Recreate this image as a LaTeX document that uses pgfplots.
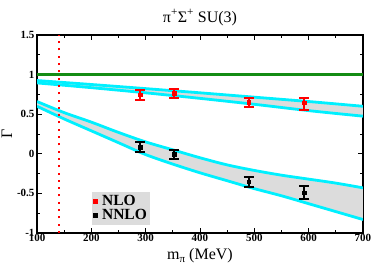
\documentclass[border=0pt]{standalone}
\usepackage{pgfplots}
\pgfplotsset{compat=1.18}
\usepgfplotslibrary{fillbetween}
\usepackage{fontspec}
\setmainfont{Liberation Serif}
\definecolor{bandgray}{RGB}{220,220,220}
\definecolor{cyanline}{RGB}{0,240,255}
\definecolor{mygreen}{RGB}{20,140,20}
\newcommand{\tl}[1]{\textbf{\fontsize{11}{12}\selectfont #1}}
\begin{document}
\begin{tikzpicture}
\begin{axis}[
  scale only axis, width=326pt, height=198pt,
  xmin=100, xmax=700, ymin=-1, ymax=1.5,
  xtick={100,200,300,400,500,600,700},
  xticklabels={\tl{100},\tl{200},\tl{300},\tl{400},\tl{500},\tl{600},\tl{700}},
  ytick={-1,-0.5,0,0.5,1,1.5},
  yticklabels={\tl{-1},\tl{-0.5},\tl{0},\tl{0.5},\tl{1},\tl{1.5}},
  minor x tick num=1, minor y tick num=1,
  tick align=inside,
  major tick length=5pt, minor tick length=3pt,
  tick style={black, line width=0.9pt},
  axis line style={line width=1.8pt},
  xticklabel style={yshift=2pt},
  yticklabel style={xshift=1pt},
  title={\fontsize{16}{18}\selectfont π\textsuperscript{+}Σ\textsuperscript{+} SU(3)},
  xlabel={\fontsize{16}{18}\selectfont m\raisebox{-0.35ex}{\fontsize{11}{11}\selectfont π} (MeV)},
  ylabel={\fontsize{16}{18}\selectfont Γ},
  xlabel style={yshift=0pt},
  ylabel style={yshift=-2pt},
  clip=true,
  legend style={at={(0.168,0.04)}, anchor=south west, fill=bandgray, draw=none,
    font=\bfseries\fontsize{15.5}{15.5}\selectfont, row sep=-1.5pt, inner sep=1.5pt,
    /tikz/every odd column/.append style={column sep=3pt}},
  legend cell align=left,
]
% NLO band
\addplot[name path=nloU, draw=none, forget plot] coordinates {(100,0.925) (200,0.875) (300,0.823) (400,0.77) (500,0.715) (600,0.66) (700,0.60)};
\addplot[name path=nloL, draw=none, forget plot] coordinates {(100,0.895) (200,0.835) (300,0.77) (400,0.70) (500,0.625) (600,0.545) (700,0.475)};
\addplot[bandgray, forget plot] fill between[of=nloU and nloL];
% NNLO band
\addplot[name path=nnloU, draw=none, forget plot] coordinates {(100,0.66) (150,0.52) (200,0.40) (250,0.27) (300,0.15) (350,0.05) (400,-0.05) (450,-0.14) (500,-0.21) (550,-0.27) (600,-0.32) (650,-0.37) (700,-0.43)};
\addplot[name path=nnloL, draw=none, forget plot] coordinates {(100,0.60) (150,0.44) (200,0.29) (250,0.14) (300,-0.01) (350,-0.13) (400,-0.24) (450,-0.34) (500,-0.44) (550,-0.53) (600,-0.63) (650,-0.73) (700,-0.83)};
\addplot[bandgray, forget plot] fill between[of=nnloU and nnloL];
% band edges
\addplot[cyanline, line width=2.8pt, smooth, forget plot] coordinates {(100,0.925) (200,0.875) (300,0.823) (400,0.77) (500,0.715) (600,0.66) (700,0.60)};
\addplot[cyanline, line width=2.8pt, smooth, forget plot] coordinates {(100,0.895) (200,0.835) (300,0.77) (400,0.70) (500,0.625) (600,0.545) (700,0.475)};
\addplot[cyanline, line width=2.8pt, smooth, forget plot] coordinates {(100,0.66) (150,0.52) (200,0.40) (250,0.27) (300,0.15) (350,0.05) (400,-0.05) (450,-0.14) (500,-0.21) (550,-0.27) (600,-0.32) (650,-0.37) (700,-0.43)};
\addplot[cyanline, line width=2.8pt, smooth, forget plot] coordinates {(100,0.60) (150,0.44) (200,0.29) (250,0.14) (300,-0.01) (350,-0.13) (400,-0.24) (450,-0.34) (500,-0.44) (550,-0.53) (600,-0.63) (650,-0.73) (700,-0.83)};
% green line
\addplot[mygreen, line width=2.3pt, forget plot] coordinates {(100,1) (700,1)};
% physical pion mass
\addplot[red, line width=2pt, dash pattern=on 2pt off 5.3pt, forget plot] coordinates {(139.57,-1) (139.57,1.5)};
% data
\addplot[red, only marks, mark=square*, mark size=1.8pt, forget plot,
  error bars/.cd, y dir=both, y explicit,
  error bar style={line width=2.2pt},
  error mark options={rotate=90, mark size=5pt, line width=2pt}]
  table[x=x, y=y, y error plus=ep, y error minus=em] {
  x y ep em
  290 0.745 0.062 0.063
  352 0.765 0.055 0.055
  490 0.648 0.052 0.053
  592 0.645 0.065 0.09
};
\addplot[black, only marks, mark=square*, mark size=1.8pt, forget plot,
  error bars/.cd, y dir=both, y explicit,
  error bar style={line width=2.2pt},
  error mark options={rotate=90, mark size=5pt, line width=2pt}]
  table[x=x, y=y, y error plus=ep, y error minus=em] {
  x y ep em
  290 0.087 0.066 0.068
  352 -0.006 0.054 0.064
  490 -0.352 0.055 0.063
  592 -0.49 0.084 0.084
};
\addlegendimage{only marks, mark=square*, red, mark size=1.8pt}
\addlegendentry{NLO}
\addlegendimage{only marks, mark=square*, black, mark size=1.8pt}
\addlegendentry{NNLO}
\end{axis}
\pgfresetboundingbox
\path (-37pt,-34pt) rectangle (337pt,233pt);
\end{tikzpicture}
\end{document}
